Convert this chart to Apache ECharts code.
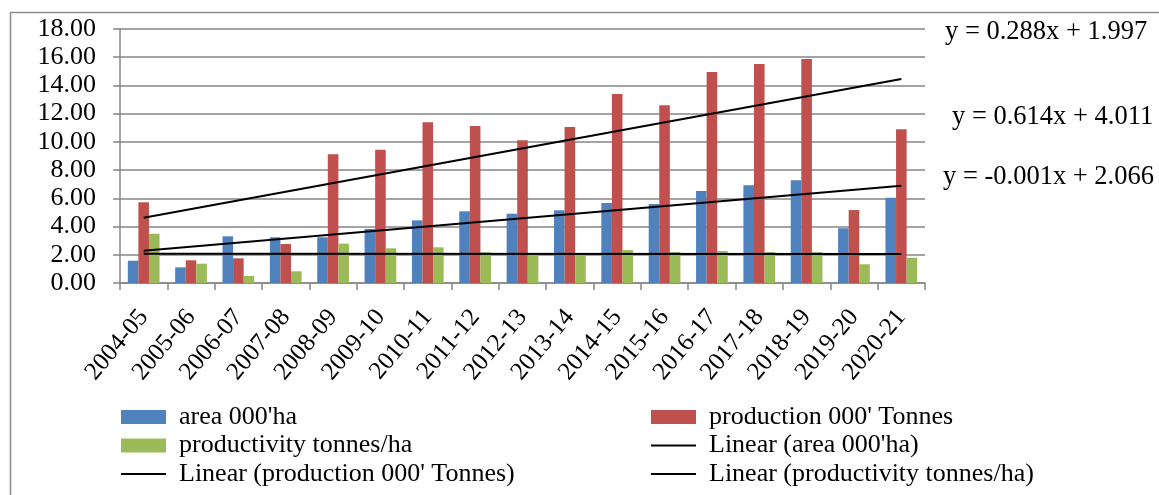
<!DOCTYPE html>
<html>
<head>
<meta charset="utf-8">
<script src="https://cdn.jsdelivr.net/npm/echarts@6/dist/echarts.min.js"></script>
<style>
html,body{margin:0;padding:0;background:#fff;}
#chart{width:1159px;height:495px;}
</style>
</head>
<body>
<div id="chart"></div>
<script>
var categories = ['2004-05','2005-06','2006-07','2007-08','2008-09','2009-10','2010-11','2011-12','2012-13','2013-14','2014-15','2015-16','2016-17','2017-18','2018-19','2019-20','2020-21'];
var area = [1.58,1.11,3.31,3.24,3.24,3.83,4.44,5.08,4.91,5.15,5.67,5.60,6.52,6.92,7.28,3.88,6.05];
var production = [5.72,1.61,1.75,2.76,9.12,9.45,11.39,11.13,10.11,11.06,13.39,12.59,14.95,15.52,15.87,5.17,10.89];
var productivity = [3.49,1.37,0.50,0.83,2.79,2.46,2.53,2.18,2.03,2.05,2.34,2.20,2.27,2.20,2.20,1.33,1.79];
var trendArea = [2.29, 6.89];
var trendProduction = [4.63, 14.45];
var trendProductivity = [2.07, 2.05];
var equations = ['y = 0.288x + 1.997','y = 0.614x + 4.011','y = -0.001x + 2.066'];
var yTicks = [0,2,4,6,8,10,12,14,16,18];

var names = {
  area: "area 000'ha",
  prod: "production 000' Tonnes",
  pty: "productivity tonnes/ha",
  lArea: "Linear (area 000'ha)",
  lProd: "Linear (production 000' Tonnes)",
  lPty: "Linear (productivity tonnes/ha)"
};
var FONT = 'Liberation Serif';
var last = categories.length - 1;
function trend(v){ return [[categories[0], v[0]], [categories[last], v[1]]]; }
function lineItem(n){ return {name: n, itemStyle: {opacity: 0}, lineStyle: {color: '#000', width: 2}}; }

var chart = echarts.init(document.getElementById('chart'));
var legendText = {fontFamily: FONT, fontSize: 26, color: '#000', lineHeight: 28, padding: [0,0,0,8]};
chart.setOption({
  animation: false,
  backgroundColor: '#fff',
  grid: {left: 120, right: 234, top: 29, bottom: 212, containLabel: false},
  xAxis: {
    type: 'category',
    data: categories,
    boundaryGap: true,
    axisLine: {lineStyle: {color: '#868686', width: 1.5}},
    axisTick: {show: true, alignWithLabel: false, length: 7, lineStyle: {color: '#868686', width: 1.5}},
    axisLabel: {rotate: 50, margin: 30, interval: 0, fontFamily: FONT, fontSize: 25, color: '#000'}
  },
  yAxis: {
    type: 'value',
    min: yTicks[0], max: yTicks[yTicks.length-1], interval: 2,
    axisLine: {show: true, lineStyle: {color: '#868686', width: 1.5}},
    axisTick: {show: true, length: 7, lineStyle: {color: '#868686', width: 1.5}},
    splitLine: {show: true, lineStyle: {color: '#868686', width: 1.5}},
    axisLabel: {margin: 24, fontFamily: FONT, fontSize: 26, color: '#000', formatter: function(v){ return v.toFixed(2); }}
  },
  legend: [
    {orient: 'vertical', left: 115, top: 398, height: 200, itemWidth: 45, itemHeight: 14, itemGap: 0.5,
     textStyle: legendText,
     data: [{name: names.area, icon: 'rect'}, {name: names.pty, icon: 'rect'}, lineItem(names.lProd)]},
    {orient: 'vertical', left: 645, top: 398, height: 200, itemWidth: 45, itemHeight: 14, itemGap: 0.5,
     textStyle: legendText,
     data: [{name: names.prod, icon: 'rect'}, lineItem(names.lArea), lineItem(names.lPty)]}
  ],
  series: [
    {name: names.area, type: 'bar', data: area, barGap: '0%', barCategoryGap: '33%', itemStyle: {color: '#4F81BD'}},
    {name: names.prod, type: 'bar', data: production, itemStyle: {color: '#C0504D'}},
    {name: names.pty, type: 'bar', data: productivity, itemStyle: {color: '#9BBB59'}},
    {name: names.lArea, type: 'line', data: trend(trendArea), symbol: 'none', lineStyle: {color: '#000', width: 2}, itemStyle: {color: '#000'}, z: 5},
    {name: names.lProd, type: 'line', data: trend(trendProduction), symbol: 'none', lineStyle: {color: '#000', width: 2}, itemStyle: {color: '#000'}, z: 5},
    {name: names.lPty, type: 'line', data: trend(trendProductivity), symbol: 'none', lineStyle: {color: '#000', width: 2}, itemStyle: {color: '#000'}, z: 5}
  ],
  graphic: [
    {type: 'rect', left: 8, top: 10, z: 0, silent: true, shape: {width: 1300, height: 700}, style: {fill: 'none', stroke: '#8c8c8c', lineWidth: 1.5}},
    {type: 'text', x: 945, y: 32, style: {text: equations[0], fontFamily: FONT, fontSize: 26.5, fill: '#000', textVerticalAlign: 'middle'}},
    {type: 'text', x: 952, y: 117, style: {text: equations[1], fontFamily: FONT, fontSize: 26.5, fill: '#000', textVerticalAlign: 'middle'}},
    {type: 'text', x: 943, y: 177, style: {text: equations[2], fontFamily: FONT, fontSize: 26.5, fill: '#000', textVerticalAlign: 'middle'}}
  ]
});
</script>
</body>
</html>
